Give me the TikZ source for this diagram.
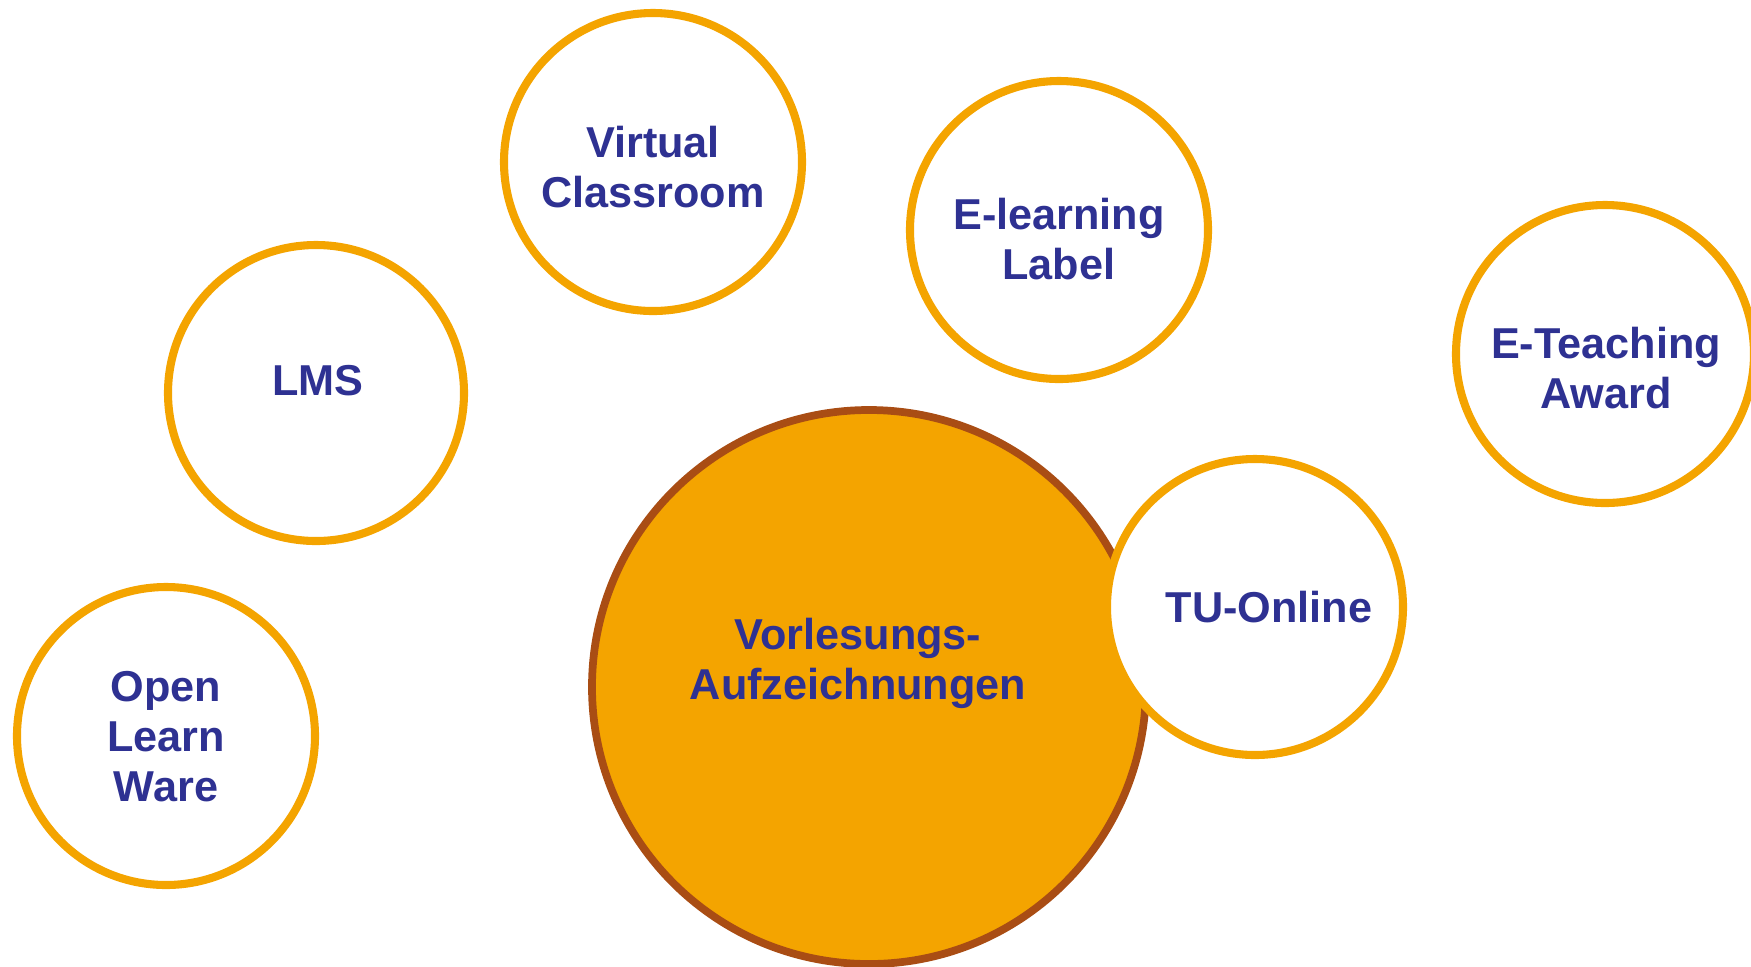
\documentclass[tikz,border=0pt]{standalone}
\usepackage{fontspec}
\setmainfont{Liberation Sans}
\definecolor{bubbleorange}{RGB}{244,164,0}
\definecolor{bubblebrown}{RGB}{169,77,20}
\definecolor{textblue}{RGB}{46,49,146}
\tikzset{
  bubble/.style={fill=white, draw=bubbleorange, line width=2.3pt},
  mainbubble/.style={fill=bubbleorange, draw=bubblebrown, line width=2.2pt},
  bubbletext/.style={text=textblue, align=center, inner sep=0pt,
    font=\bfseries\fontsize{12.3}{14.2}\selectfont}
}
\begin{document}
\begin{tikzpicture}

  \useasboundingbox (0,0) rectangle (17.51,-9.66);
  \clip (0,0) rectangle (17.51,-9.66);

  % outer ring of topics
  \filldraw[bubble] (6.53,-1.62) circle (1.49cm);
  \node[bubbletext] (vc) at (6.53,-1.67) {Virtual\\Classroom};

  \filldraw[bubble] (10.59,-2.30) circle (1.49cm);
  \node[bubbletext] (el) at (10.59,-2.39) {E-learning\\Label};

  \filldraw[bubble] (3.16,-3.93) circle (1.48cm);
  \node[bubbletext] (lms) at (3.18,-3.81) {LMS};

  \filldraw[bubble] (16.05,-3.54) circle (1.49cm);
  \node[bubbletext] (eta) at (16.06,-3.68) {E-Teaching\\Award};

  \filldraw[bubble] (1.66,-7.36) circle (1.49cm);
  \node[bubbletext] (olw) at (1.66,-7.37) {Open\\Learn\\Ware};

  % main topic
  \filldraw[mainbubble] (8.69,-6.87) circle (2.77cm);
  \node[bubbletext] (vl) at (8.58,-6.63) {Vorlesungs-\\Aufzeichnungen};

  \filldraw[bubble] (12.55,-6.07) circle (1.48cm);
  \node[bubbletext] (tuo) at (12.69,-6.07) {TU-Online};

\end{tikzpicture}
\end{document}
